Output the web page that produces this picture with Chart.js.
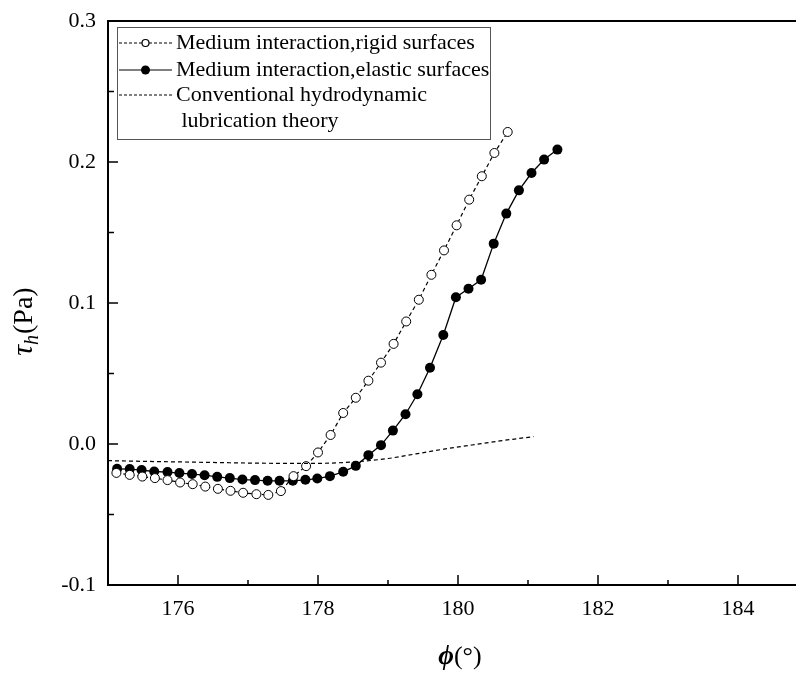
<!DOCTYPE html>
<html>
<head>
<meta charset="utf-8">
<script src="https://cdn.jsdelivr.net/npm/chart.js@4.4.1/dist/chart.umd.min.js"></script>
<style>
  html, body { margin: 0; padding: 0; background: #fff; }
  #wrap { width: 796px; height: 673px; }
</style>
</head>
<body>
<div id="wrap"><canvas id="tauChart" width="796" height="673"></canvas></div>
<script>
const xRigid = [175.12, 175.31, 175.49, 175.67, 175.85, 176.03, 176.21, 176.39, 176.57, 176.75, 176.93, 177.12,
    177.29, 177.47, 177.65, 177.83, 178.00, 178.18, 178.36, 178.54, 178.72, 178.90, 179.08, 179.26, 179.44, 179.62,
    179.80, 179.98, 180.16, 180.34, 180.52, 180.71];
const yRigid = [-0.0205, -0.0219, -0.0231, -0.0242, -0.0256, -0.0273, -0.0285, -0.0302, -0.0318, -0.0332, -0.0346,
    -0.0356, -0.0361, -0.0334, -0.0228, -0.0157, -0.0060, 0.0064, 0.0220, 0.0328, 0.0449, 0.0577, 0.0710, 0.0869,
    0.1023, 0.1200, 0.1373, 0.1551, 0.1733, 0.1899, 0.2064, 0.2213];

const xElastic = [175.13, 175.31, 175.48, 175.66, 175.85, 176.02, 176.20, 176.38, 176.56, 176.74, 176.92, 177.10,
    177.28, 177.45, 177.64, 177.82, 177.99, 178.17, 178.36, 178.54, 178.72, 178.90, 179.07, 179.25, 179.42, 179.60,
    179.79, 179.97, 180.15, 180.33, 180.51, 180.69, 180.87, 181.05, 181.23, 181.42];
const yElastic = [-0.0176, -0.0178, -0.0185, -0.0195, -0.0199, -0.0206, -0.0213, -0.0221, -0.0233, -0.0242, -0.0252,
    -0.0256, -0.0261, -0.0261, -0.0261, -0.0254, -0.0245, -0.0228, -0.0197, -0.0155, -0.0079, -0.0008, 0.0095, 0.0211,
    0.0353, 0.0541, 0.0773, 0.1041, 0.1101, 0.1165, 0.1421, 0.1634, 0.1799, 0.1922, 0.2017, 0.2088];

const xConv = [175.0, 175.5, 176.0, 176.5, 177.0, 177.5, 178.0, 178.3, 178.6, 179.0, 179.4, 179.8, 180.2, 180.6, 181.08];
const yConv = [-0.0118, -0.0123, -0.0127, -0.0131, -0.0135, -0.0137, -0.0137, -0.0133, -0.0124, -0.0103, -0.0070,
    -0.0036, -0.0007, 0.0022, 0.0052];

const xMajorTicks = [176, 178, 180, 182, 184];
const xMinorTicks = [175, 177, 179, 181, 183];
const yMajorTicks = [-0.1, 0.0, 0.1, 0.2, 0.3];
const yMinorTicks = [-0.05, 0.05, 0.15, 0.25];

const legendLabels = ['Medium interaction,rigid surfaces', 'Medium interaction,elastic surfaces',
    'Conventional hydrodynamic', ' lubrication theory'];

const SERIF = "'Liberation Serif', 'DejaVu Serif', serif";

function toPoints(xs, ys) {
    return xs.map((x, i) => ({ x: x, y: ys[i] }));
}

// ticks inside the frame, top border, legend box, axis titles
const framePlugin = {
    id: 'frame',
    afterDraw(chart) {
        const ctx = chart.ctx;
        const a = chart.chartArea;
        const xs = chart.scales.x;
        const ys = chart.scales.y;
        ctx.save();
        ctx.strokeStyle = '#000';
        ctx.lineWidth = 2;
        ctx.beginPath();
        ctx.moveTo(a.left - 1, a.top);
        ctx.lineTo(chart.width, a.top);
        // frame runs off the right edge of the picture
        ctx.moveTo(a.right - 1, a.bottom);
        ctx.lineTo(chart.width, a.bottom);
        ctx.stroke();

        ctx.lineWidth = 1.5;
        ctx.beginPath();
        xMajorTicks.forEach(v => { const p = xs.getPixelForValue(v); ctx.moveTo(p, a.bottom); ctx.lineTo(p, a.bottom - 10); });
        xMinorTicks.forEach(v => { const p = xs.getPixelForValue(v); ctx.moveTo(p, a.bottom); ctx.lineTo(p, a.bottom - 5); });
        yMajorTicks.forEach(v => { const p = ys.getPixelForValue(v); ctx.moveTo(a.left, p); ctx.lineTo(a.left + 10, p); });
        yMinorTicks.forEach(v => { const p = ys.getPixelForValue(v); ctx.moveTo(a.left, p); ctx.lineTo(a.left + 6, p); });
        ctx.stroke();

        // legend
        ctx.fillStyle = '#fff';
        ctx.fillRect(117, 27, 373, 112);
        ctx.strokeStyle = '#555';
        ctx.lineWidth = 1;
        ctx.strokeRect(117.5, 27.5, 373, 112);
        const rows = [43, 70, 95, 121];
        ctx.strokeStyle = '#000';
        ctx.lineWidth = 1.2;
        [0, 1, 2].forEach(i => {
            ctx.setLineDash(i === 1 ? [] : [3, 2]);
            ctx.beginPath();
            ctx.moveTo(119, rows[i]);
            ctx.lineTo(172, rows[i]);
            ctx.stroke();
        });
        ctx.setLineDash([]);
        ctx.beginPath();
        ctx.arc(145.5, rows[0], 3.5, 0, Math.PI * 2);
        ctx.fillStyle = '#fff';
        ctx.fill();
        ctx.stroke();
        ctx.beginPath();
        ctx.arc(145.5, rows[1], 4.5, 0, Math.PI * 2);
        ctx.fillStyle = '#000';
        ctx.fill();

        ctx.font = '22px ' + SERIF;
        ctx.textBaseline = 'middle';
        ctx.textAlign = 'left';
        legendLabels.forEach((t, i) => ctx.fillText(t, 176, rows[i]));

        // x title: phi(deg)
        const xMid = xs.getPixelForValue(180) + 2;
        ctx.textBaseline = 'alphabetic';
        ctx.font = 'bold italic 27px ' + SERIF;
        const phiW = ctx.measureText('\u03D5').width;
        ctx.font = '26px ' + SERIF;
        const degW = ctx.measureText('(\u00B0)').width;
        let x0 = xMid - (phiW + degW) / 2;
        ctx.font = 'bold italic 27px ' + SERIF;
        ctx.fillText('\u03D5', x0, 664);
        ctx.font = '26px ' + SERIF;
        ctx.fillText('(\u00B0)', x0 + phiW, 664);

        // y title: tau_h(Pa)
        ctx.translate(32, 322);
        ctx.rotate(-Math.PI / 2);
        ctx.font = 'italic 30px ' + SERIF;
        const tauW = ctx.measureText('\u03C4').width;
        ctx.font = 'italic 20px ' + SERIF;
        const hW = ctx.measureText('h').width;
        ctx.font = '28px ' + SERIF;
        const paW = ctx.measureText('(Pa)').width;
        let s = -(tauW + hW + paW) / 2;
        ctx.font = 'italic 30px ' + SERIF;
        ctx.fillText('\u03C4', s, 0);
        ctx.font = 'italic 20px ' + SERIF;
        ctx.fillText('h', s + tauW, 6);
        ctx.font = '28px ' + SERIF;
        ctx.fillText('(Pa)', s + tauW + hW + 1, 0);
        ctx.restore();
    }
};

document.addEventListener('DOMContentLoaded', () => {
    const ctx = document.getElementById('tauChart').getContext('2d');
    new Chart(ctx, {
        type: 'line',
        data: {
            datasets: [
                {
                    label: legendLabels[2],
                    data: toPoints(xConv, yConv),
                    borderColor: '#000',
                    borderWidth: 1.2,
                    borderDash: [4, 3],
                    pointRadius: 0,
                    cubicInterpolationMode: 'monotone',
                    tension: 0.4
                },
                {
                    label: legendLabels[0],
                    data: toPoints(xRigid, yRigid),
                    borderColor: '#000',
                    borderWidth: 1.2,
                    borderDash: [4, 3],
                    pointRadius: 4.5,
                    pointBorderWidth: 1,
                    pointBackgroundColor: '#fff',
                    pointBorderColor: '#000',
                    tension: 0
                },
                {
                    label: legendLabels[1],
                    data: toPoints(xElastic, yElastic),
                    borderColor: '#000',
                    borderWidth: 1.3,
                    pointRadius: 5,
                    pointBorderWidth: 0,
                    pointBackgroundColor: '#000',
                    tension: 0
                }
            ]
        },
        options: {
            responsive: false,
            animation: false,
            layout: { padding: { left: 0, top: 21, right: 0, bottom: 0 } },
            scales: {
                x: {
                    type: 'linear',
                    min: 175,
                    max: 184.75,
                    afterFit: s => { s.height = 88; s.paddingRight = 0; s.paddingLeft = 0; },
                    afterBuildTicks: s => { s.ticks = xMajorTicks.map(v => ({ value: v })); },
                    grid: { display: false, drawTicks: false },
                    border: { display: true, color: '#000', width: 2 },
                    ticks: {
                        color: '#000',
                        padding: 11,
                        font: { family: SERIF, size: 22 },
                        callback: v => String(v)
                    }
                },
                y: {
                    min: -0.1,
                    max: 0.3,
                    afterFit: s => { s.width = 108; s.paddingTop = 0; s.paddingBottom = 0; },
                    afterBuildTicks: s => { s.ticks = yMajorTicks.map(v => ({ value: v })); },
                    grid: { display: false, drawTicks: false },
                    border: { display: true, color: '#000', width: 2 },
                    ticks: {
                        color: '#000',
                        padding: 12,
                        font: { family: SERIF, size: 22 },
                        callback: v => v.toFixed(1)
                    }
                }
            },
            plugins: {
                legend: { display: false },
                tooltip: { enabled: false }
            }
        },
        plugins: [framePlugin]
    });
});
</script>
</body>
</html>
